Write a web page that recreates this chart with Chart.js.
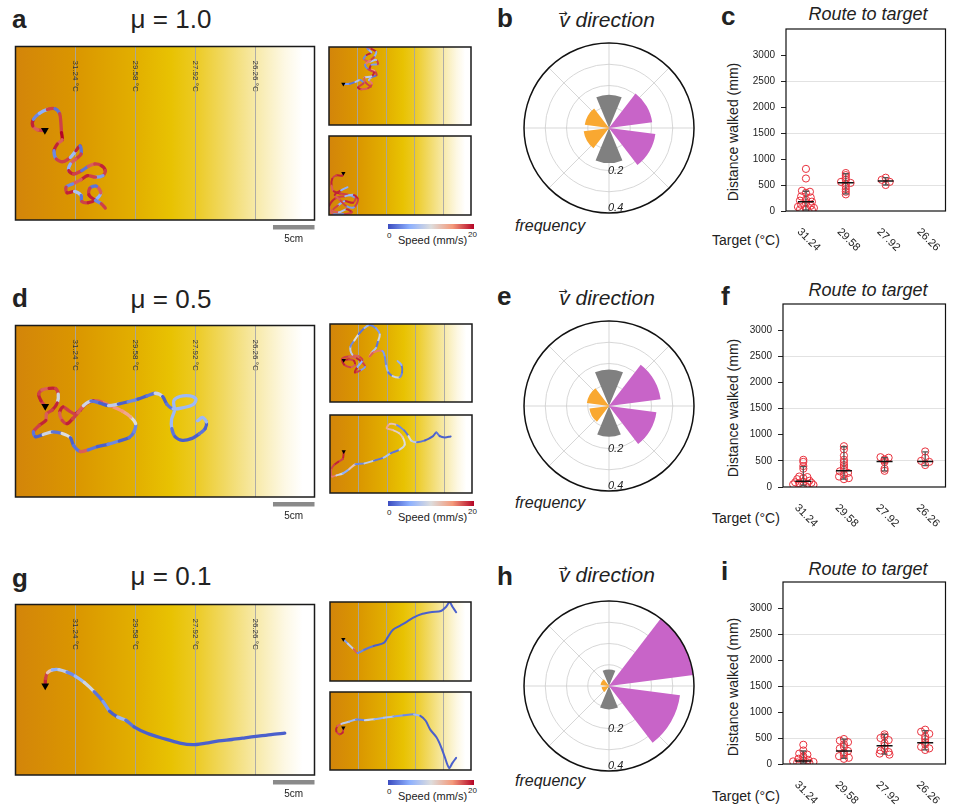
<!DOCTYPE html>
<html><head><meta charset="utf-8">
<script src="https://cdn.jsdelivr.net/npm/chart.js@4/dist/chart.umd.min.js"></script>
<style>
html,body{margin:0;padding:0;background:#fff;}
body{width:955px;height:808px;position:relative;overflow:hidden;font-family:"Liberation Sans",Arial,sans-serif;color:#222;}
canvas{position:absolute;}
.t{position:absolute;white-space:nowrap;}
.let{font-weight:bold;font-size:26px;line-height:26px;}
.mu{font-size:26px;line-height:26px;width:200px;text-align:center;}
.vt{font-style:italic;font-size:21px;line-height:21px;width:160px;text-align:center;}
.vv{position:relative;display:inline-block;}
.arr{position:absolute;left:-1px;top:-1px;font-size:11px;font-style:normal;line-height:11px;font-family:"DejaVu Sans",sans-serif;}
.rt{font-style:italic;font-size:18px;line-height:18px;width:200px;text-align:center;}
.fq{font-style:italic;font-size:16px;line-height:16px;}
.tg{font-size:14px;line-height:14px;}
.dw{font-size:14px;line-height:16px;width:200px;text-align:center;transform:rotate(-90deg);}
.cb{position:absolute;height:5px;width:86px;background:linear-gradient(to right,#3B4CC0,#8DB0FE,#DDDDDD,#F49A7B,#B40426);}
.sm{font-size:8px;line-height:8px;}
.sp{font-size:11px;line-height:11px;}
</style></head><body>

<div class="t let" style="left:12px;top:6px">a</div>
<div class="t mu" style="left:71px;top:6px">μ = 1.0</div>
<div class="t let" style="left:497px;top:5px">b</div>
<div class="t vt" style="left:527px;top:9px"><span class="vv">v<span class="arr">→</span></span> direction</div>
<div class="t let" style="left:721px;top:3px">c</div>
<div class="t rt" style="left:768px;top:5px">Route to target</div>
<div class="t fq" style="left:515px;top:218px">frequency</div>
<div class="t tg" style="left:712px;top:233px">Target (°C)</div>
<div class="t dw" style="left:633px;top:124px">Distance walked (mm)</div>

<div class="t let" style="left:12px;top:285px">d</div>
<div class="t mu" style="left:71px;top:286px">μ = 0.5</div>
<div class="t let" style="left:497px;top:283px">e</div>
<div class="t vt" style="left:527px;top:287px"><span class="vv">v<span class="arr">→</span></span> direction</div>
<div class="t let" style="left:721px;top:283px">f</div>
<div class="t rt" style="left:768px;top:281px">Route to target</div>
<div class="t fq" style="left:515px;top:495px">frequency</div>
<div class="t tg" style="left:712px;top:511px">Target (°C)</div>
<div class="t dw" style="left:633px;top:400px">Distance walked (mm)</div>

<div class="t let" style="left:12px;top:565px">g</div>
<div class="t mu" style="left:71px;top:563px">μ = 0.1</div>
<div class="t let" style="left:497px;top:563px">h</div>
<div class="t vt" style="left:527px;top:564px"><span class="vv">v<span class="arr">→</span></span> direction</div>
<div class="t let" style="left:721px;top:558px">i</div>
<div class="t rt" style="left:768px;top:560px">Route to target</div>
<div class="t fq" style="left:515px;top:773px">frequency</div>
<div class="t tg" style="left:712px;top:789px">Target (°C)</div>
<div class="t dw" style="left:633px;top:679px">Distance walked (mm)</div>

<div class="cb" style="left:388px;top:224px"></div>
<div class="t sm" style="left:387px;top:232px">0</div>
<div class="t sm" style="left:468px;top:231px">20</div>
<div class="t sp" style="left:398px;top:235px">Speed (mm/s)</div>
<div class="cb" style="left:388px;top:501px"></div>
<div class="t sm" style="left:387px;top:509px">0</div>
<div class="t sm" style="left:468px;top:508px">20</div>
<div class="t sp" style="left:398px;top:512px">Speed (mm/s)</div>
<div class="cb" style="left:388px;top:780px"></div>
<div class="t sm" style="left:387px;top:788px">0</div>
<div class="t sm" style="left:468px;top:787px">20</div>
<div class="t sp" style="left:398px;top:791px">Speed (mm/s)</div>

<script>
// ---------- arena / isotherms ----------
const arenaW = 360, arenaH = 206;          // mm
const scaleBarMM = 50;
const isothermTemps = ['31.24','29.58','27.92','26.26'];
const isothermPos = [72,144,216,288];     // mm from warm wall

// ---------- trajectories (mm) and speed (mm/s) ----------
const trajA_x = [35.4,26.7,20.8,21.6,28.7,38.5,47.6,53.1,54.6,55.4,56.2,50.3,46.4,49.1,57.0,66.0,72.7,77.8,79.0,72.7,66.0,64.1,70.0,79.8,87.6,95.5,103.4,108.1,105.3,96.3,86.9,79.0,68.8,60.9,62.1,71.1,79.0,79.8,87.6,96.7,102.6,97.5,89.6,88.4,96.3,103.4,108.1];
const trajA_y = [99.4,99.0,94.3,86.5,79.4,74.7,73.9,79.8,90.4,102.2,110.8,115.9,123.8,133.6,136.8,131.7,123.8,117.9,127.7,133.6,139.5,147.4,151.3,147.4,142.3,139.5,141.5,147.4,153.3,155.2,153.3,158.0,163.1,167.0,173.7,172.1,176.9,183.9,185.5,181.6,173.7,165.8,168.2,176.1,182.8,186.7,191.8];
const trajA_speed = [18,17,19,3,5,18,2,18,18,20,17,19,3,18,18,6,19,2,18,17,5,19,18,2,17,18,19,18,4,18,19,17,3,18,19,7,2,18,19,5,17,2,18,19,3,18,2];

const trajA1_x = [36.4,52.6,67.1,79.3,87.4,73.6,81.7,99.5,109.2,101.1,109.2,120.5,115.7,103.6,107.6,123.8,119.7,101.1,88.2,95.5,107.6,99.5,96.3,107.6,119.7,114.0,104.4,91.4,99.5,114.0,107.6,89.8,93.0,106.0];
const trajA1_y = [97.9,97.1,92.2,87.4,95.5,106.8,111.6,108.4,97.1,87.4,79.3,74.4,63.1,58.2,46.9,45.3,34.0,38.8,30.7,21.0,14.6,6.5,0.8,4.9,12.9,26.7,35.6,46.9,59.0,67.1,77.7,80.9,93.8,105.2];
const trajA1_speed = [4,2,7,3,18,19,17,18,16,6,2,18,15,19,4,18,7,17,3,19,6,3,17,19,5,18,16,3,18,19,8,17,18,16];

const trajA2_x = [36.4,33.2,18.6,8.1,6.5,12.1,28.3,51.0,67.1,60.7,38.8,22.7,8.9,25.1,44.5,57.4,36.4,8.9,0.8,17.0,41.3,63.1,73.6,63.1,42.9,26.7,14.6,30.7,46.9];
const trajA2_y = [97.1,103.6,102.7,111.6,129.4,144.0,149.7,153.7,161.8,174.0,169.9,181.2,194.2,199.0,190.9,199.0,203.9,202.3,182.0,161.8,156.9,153.7,165.8,186.1,182.0,165.8,153.7,141.6,133.5];
const trajA2_speed = [18,19,18,19,17,19,18,4,18,19,5,18,17,7,19,18,3,17,19,18,6,19,18,4,18,17,19,5,14];

const trajD_x = [35.8,30.7,27.9,31.8,40.5,48.3,51.5,50.3,44.4,37.3,36.5,28.7,21.6,24.0,33.4,44.4,56.2,66.0,70.0,77.8,87.6,98.6,111.2,125.0,136.8,142.7,144.6,138.7,128.9,115.9,103.4,93.5,84.5,78.2,71.1,64.1,57.0,53.1,56.2,62.1,68.8,75.1,81.7,90.8,101.4,112.0,123.8,135.6,147.4,158.4,168.2,177.2,182.0,189.8,202.4,214.2,217.3,210.3,197.7,190.6,191.4,187.9,188.2,192.2,200.8,212.6,221.3,228.3,229.9,225.2,219.3];
const trajD_y = [97.1,90.4,82.5,77.4,75.5,75.8,82.5,93.1,101.4,106.1,114.0,119.9,127.7,133.6,130.9,127.7,129.7,134.8,144.2,151.3,149.3,145.4,142.7,138.7,134.8,127.7,117.9,110.0,103.0,97.1,91.6,90.4,94.3,101.4,106.1,102.2,97.9,104.9,114.0,117.9,112.0,104.9,96.3,90.8,93.1,96.3,94.3,91.6,88.4,84.5,81.4,85.3,94.3,100.2,98.6,94.7,88.4,84.5,85.3,90.4,102.2,112.8,123.8,133.6,137.9,135.6,130.1,123.8,115.9,110.4,114.4];
const trajD_speed = [18,19,18,17,19,18,9,19,18,17,19,18,2,1,9,2,10,1,2,17,2,1,3,1,2,3,10,14,15,16,17,19,18,19,18,18,19,17,18,19,18,17,9,2,1,8,1,3,1,2,9,1,2,6,6,6,6,6,6,6,6,6,2,1,1,1,2,1,6,6,6];

const trajD1_x = [34.8,48.5,60.7,63.1,51.0,35.6,30.7,48.5,68.0,80.9,89.0,76.0,63.1,69.6,82.5,72.8,56.6,51.8,61.5,72.8,87.4,100.3,116.5,126.2,121.4,116.5,105.2,100.3,111.6,132.7,139.1,142.4,148.0,158.6,176.4,182.8,181.2,171.5];
const trajD1_y = [95.5,93.0,97.1,108.4,114.1,106.8,92.2,85.8,90.6,100.3,113.3,123.0,127.8,113.3,95.5,85.8,80.9,59.9,43.7,26.7,10.5,2.4,11.3,27.5,46.9,63.1,76.0,85.8,74.4,71.2,87.4,110.0,127.8,137.5,140.8,127.8,108.4,97.9];
const trajD1_speed = [19,18,19,17,18,19,18,17,19,18,4,18,19,5,18,17,8,3,10,2,6,3,4,9,2,7,15,17,16,4,3,6,2,9,3,2,5,9];

const trajD2_x = [34.8,32.4,21.0,10.5,2.4,4.9,16.2,32.4,48.5,64.7,87.4,111.6,135.9,153.7,176.4,189.3,184.5,174.7,158.6,144.0,152.1,169.9,188.5,199.0,207.1,220.8,241.1,261.3,269.4,278.3,291.2,305.8];
const trajD2_y = [96.3,115.7,123.8,131.9,144.8,162.6,159.4,154.5,143.2,130.2,127.8,120.5,112.5,101.1,91.4,78.5,59.1,47.7,39.6,34.8,23.5,26.7,41.3,55.8,68.8,72.0,67.1,55.8,46.1,55.8,59.1,56.6];
const trajD2_speed = [19,18,19,18,17,16,9,5,12,3,8,2,7,2,9,10,12,11,13,14,12,3,2,10,8,2,1,1,2,1,1,1];

const trajG_x = [35.8,36.2,38.5,44.4,52.3,62.1,71.9,82.9,94.7,105.3,113.2,123.0,132.8,142.7,158.4,178.0,197.7,213.4,229.1,244.8,260.6,276.3,292.0,307.7,324.2];
const trajG_y = [98.3,89.6,82.5,79.0,78.6,81.7,86.5,94.3,105.3,117.1,128.9,136.0,139.9,147.8,155.6,161.9,167.4,169.4,167.4,164.7,163.1,161.1,159.0,157.1,155.5];
const trajG_speed = [19,18,12,5,8,3,6,9,2,4,1,6,2,1,1,1,1,1,1,1,1,1,1,1,1];

const trajG1_x = [34.0,45.3,60.7,70.4,87.4,111.6,137.5,147.2,160.2,179.6,195.8,212.8,236.2,260.5,283.2,296.1,305.0,313.1,322.0];
const trajG1_y = [97.1,108.4,123.0,132.7,124.6,114.9,106.8,92.2,72.8,61.5,51.8,40.5,30.7,25.9,23.5,12.9,0.5,12.9,26.7];
const trajG1_speed = [4,8,17,3,2,1,1,1,1,1,1,1,1,1,1,1,1,1,1];

const trajG2_x = [34.0,32.4,24.3,16.2,18.6,29.1,48.5,66.3,89.0,113.3,137.5,161.8,187.7,214.4,230.6,244.3,255.6,271.8,283.2,292.9,304.2,312.3,322.0];
const trajG2_y = [94.7,106.8,111.6,103.6,90.6,84.1,78.5,72.8,74.4,72.0,68.0,64.7,61.5,59.1,63.1,76.0,98.7,119.7,144.0,171.5,200.6,187.7,173.9];
const trajG2_speed = [18,19,18,19,17,8,6,3,9,5,7,4,3,6,1,1,1,1,1,1,1,1,1];

// ---------- heading histograms (frequency per 60° bin) ----------
const dirBins = ['N','NE','SE','S','SW','NW'];
const dirColors = ['#808080','#C864C8','#C864C8','#808080','#F9A831','#F9A831'];
const freqB = [0.156,0.205,0.220,0.165,0.120,0.115];
const freqE = [0.172,0.245,0.225,0.145,0.093,0.105];
const freqH = [0.078,0.400,0.337,0.110,0.035,0.040];
const radialTickLabels = ['0.2','0.4'];
const radialTickValues = [0.2,0.4];

// ---------- route to target ----------
const targetLabels = ['31.24','29.58','27.92','26.26'];
const distC = [[810,625,390,370,350,280,260,220,200,180,150,120,100,80,60,40,30,20],[730,690,650,600,560,540,520,470,420,370,320],[640,600,560,500],[]];
const jitC  = [[0,0,-0.1,0.1,0,-0.12,0.12,0,-0.15,0.15,0,-0.12,0.12,-0.2,0.2,0,-0.15,0.15],[0,0,0,0,-0.12,0.12,0,0,0,0,0],[0,-0.1,0.1,0],[]];
const medC = [180,545,575,null], loC = [20,330,500,null], hiC = [380,720,640,null];

const distF = [[520,480,400,350,200,190,170,150,120,100,90,80,70,60,50,40,30],[780,720,600,520,470,420,380,330,300,270,240,200,170,150],[570,560,530,510,480,350,310],[680,560,500,480,420]];
const jitF  = [[0,0,0,0,-0.1,0.1,0,-0.15,0.15,0,-0.2,0.2,-0.1,0.1,-0.25,0.25,0],[0,0,0,0,0,0,0,0,-0.1,0.1,0,-0.12,0.12,0],[-0.1,0.1,0,0,0,0,0],[0,0,-0.1,0.1,0]];
const medF = [110,310,490,490], loF = [30,150,310,410], hiF = [390,770,560,670];

const distI = [[370,260,200,180,150,120,100,80,60,50,40,30,20],[480,450,420,380,330,300,250,220,180,150,120,100],[570,530,500,460,400,350,300,260,230,200,180],[660,620,580,530,480,420,380,330,300,270]];
const jitI  = [[0,0,-0.1,0.1,0,0,-0.12,0.12,0,-0.25,0.25,-0.15,0.15],[0,-0.1,0.1,0,0,-0.1,0.1,0,0,-0.12,0.12,0],[0,0,-0.1,0.1,0,0,0,-0.1,0.1,-0.12,0.12],[0,-0.1,0.1,0,0,0,0,-0.1,0.1,0]];
const medI = [60,250,350,410], loI = [20,110,190,270], hiI = [250,480,570,640];

// ================= helpers =================
const FONT = '"Liberation Sans", Arial, sans-serif';
function coolwarm(s){
  const t = Math.max(0, Math.min(1, s/20));
  const st = [[59,76,192],[141,176,254],[221,221,221],[244,154,123],[180,4,38]];
  const p = t*4, i = Math.min(3, Math.floor(p)), f = p - i, a = st[i], b = st[i+1];
  return 'rgb(' + [0,1,2].map(k => Math.round(a[k] + (b[k]-a[k])*f)).join(',') + ')';
}
function mkCanvas(l,t,w,h){
  const c = document.createElement('canvas');
  c.width = w; c.height = h;
  c.style.left = l+'px'; c.style.top = t+'px'; c.style.width = w+'px'; c.style.height = h+'px';
  document.body.appendChild(c);
  return c.getContext('2d');
}
const gradStops = [[0,'#D3850A'],[0.2,'#DA9600'],[0.4,'#E2AF00'],[0.52,'#E8C202'],[0.6,'#ECCA22'],[0.7,'#F1D963'],[0.8,'#F7E9A6'],[0.9,'#FDF8E4'],[0.96,'#FFFFFF'],[1,'#FFFFFF']];

const arenaPlugin = {
  id: 'arena',
  beforeDatasetsDraw(chart, args, opts){
    const {ctx, chartArea:{left,top,right,bottom}} = chart;
    const xs = chart.scales.x;
    ctx.save();
    const g = ctx.createLinearGradient(left,0,right,0);
    gradStops.forEach(s => g.addColorStop(s[0], s[1]));
    ctx.fillStyle = g; ctx.fillRect(left, top, right-left, bottom-top);
    isothermPos.forEach((p,i) => {
      const x = Math.round(xs.getPixelForValue(p)) + 0.5;
      ctx.strokeStyle = 'rgba(165,165,165,0.9)'; ctx.lineWidth = 1;
      ctx.beginPath(); ctx.moveTo(x, top); ctx.lineTo(x, bottom); ctx.stroke();
      if (opts.labels){
        ctx.save(); ctx.translate(x, top + 14); ctx.rotate(Math.PI/2);
        ctx.fillStyle = '#333'; ctx.font = '8px ' + FONT; ctx.textAlign = 'left'; ctx.textBaseline = 'middle';
        ctx.fillText(isothermTemps[i] + ' °C', 0, 0); ctx.restore();
      }
    });
    ctx.restore();
  },
  afterDatasetsDraw(chart){
    const {ctx, chartArea:{left,top,right,bottom}} = chart;
    ctx.save(); ctx.strokeStyle = '#1a1a1a'; ctx.lineWidth = 1.5;
    ctx.strokeRect(left, top, right-left, bottom-top); ctx.restore();
  },
  afterDraw(chart, args, opts){
    if (!opts.scaleBar) return;
    const {ctx, chartArea:{bottom}} = chart; const xs = chart.scales.x;
    const r = xs.getPixelForValue(arenaW), l = xs.getPixelForValue(arenaW - scaleBarMM);
    ctx.save(); ctx.fillStyle = '#8a8a8a'; ctx.fillRect(l, bottom + 5, r - l, 4.5);
    ctx.fillStyle = '#222'; ctx.font = '10px ' + FONT; ctx.textAlign = 'center'; ctx.textBaseline = 'middle';
    ctx.fillText('5cm', (l + r)/2, bottom + 19); ctx.restore();
  }
};

function arenaChart(l, t, w, h, xs, ys, sp, main){
  const pad = main ? {left:1, top:1, right:1, bottom:30} : {left:1, top:1, right:1, bottom:1};
  const ctx = mkCanvas(l-1, t-1, w+2, h+pad.top+pad.bottom);
  const pts = xs.map((x,i) => ({x, y: ys[i]}));
  return new Chart(ctx, {
    type: 'line',
    data: {datasets: [
      {data: pts, borderWidth: main ? 3.3 : 2, tension: 0.3, pointRadius: 0, borderCapStyle: 'round', borderJoinStyle: 'round',
       borderColor: coolwarm(sp[0]), segment: {borderColor: c => coolwarm(sp[c.p0DataIndex])}, order: 2},
      {data: [pts[0]], showLine: false, pointStyle: 'triangle', rotation: 180, pointRadius: main ? 4.5 : 2.5,
       backgroundColor: '#000', borderColor: '#000', borderWidth: 0, order: 1}
    ]},
    options: {responsive: false, animation: false, events: [], layout: {padding: pad},
      scales: {x: {type: 'linear', min: 0, max: arenaW, display: false},
               y: {type: 'linear', min: 0, max: arenaH, reverse: true, display: false}},
      plugins: {legend: {display: false}, tooltip: {enabled: false}, arena: {labels: main, scaleBar: main}}},
    plugins: [arenaPlugin]
  });
}

// ---------- polar ----------
const polarPlugin = {
  id: 'polarDeco',
  beforeDatasetsDraw(chart){
    const r = chart.scales.r, ctx = chart.ctx;
    ctx.save(); ctx.strokeStyle = '#cdcdcd'; ctx.lineWidth = 0.8;
    for (let k = 0; k < 8; k++){
      const a = k * Math.PI / 4;
      ctx.beginPath(); ctx.moveTo(r.xCenter, r.yCenter);
      ctx.lineTo(r.xCenter + r.drawingArea*Math.cos(a), r.yCenter + r.drawingArea*Math.sin(a)); ctx.stroke();
    }
    ctx.restore();
  },
  afterDatasetsDraw(chart){
    const r = chart.scales.r, ctx = chart.ctx;
    ctx.save();
    ctx.strokeStyle = '#111'; ctx.lineWidth = 1.5;
    ctx.beginPath(); ctx.arc(r.xCenter, r.yCenter, r.getDistanceFromCenterForValue(r.max), 0, 2*Math.PI); ctx.stroke();
    ctx.fillStyle = '#222'; ctx.font = 'italic 11px ' + FONT; ctx.textAlign = 'left'; ctx.textBaseline = 'middle';
    radialTickLabels.forEach((lab, i) => {
      const v = radialTickValues[i];
      const d = r.getDistanceFromCenterForValue(v) - (v >= r.max ? 5 : 0);
      ctx.fillText(lab, r.xCenter - 1, r.yCenter + d);
    });
    ctx.restore();
  }
};
function polarChart(l, t, freq){
  const ctx = mkCanvas(l, t, 176, 176);
  const data = [], colors = [], angles = [], labels = [];
  freq.forEach((f,i) => { data.push(f, 0); colors.push(dirColors[i], 'rgba(0,0,0,0)'); angles.push(45, 15); labels.push(dirBins[i], ''); });
  return new Chart(ctx, {
    type: 'polarArea',
    data: {labels, datasets: [{data, backgroundColor: colors, borderWidth: 0, angle: angles}]},
    options: {responsive: false, animation: false, events: [], layout: {padding: 3},
      scales: {r: {min: 0, max: 0.4, startAngle: -22.5, ticks: {display: false, stepSize: 0.1},
        angleLines: {display: false}, pointLabels: {display: false},
        grid: {circular: true, lineWidth: 0.8, color: c => (c.tick && c.tick.value >= 0.4) ? 'rgba(0,0,0,0)' : '#cdcdcd'}}},
      plugins: {legend: {display: false}, tooltip: {enabled: false}}},
    plugins: [polarPlugin]
  });
}

// ---------- route ----------
const routePlugin = {
  id: 'routeDeco',
  afterDraw(chart){
    const {ctx, chartArea:{left,top,right,bottom}} = chart; const xs = chart.scales.x;
    ctx.save(); ctx.strokeStyle = '#111'; ctx.lineWidth = 1.2;
    ctx.strokeRect(left, top, right-left, bottom-top);
    ctx.fillStyle = '#222'; ctx.font = '11px ' + FONT; ctx.textAlign = 'left'; ctx.textBaseline = 'middle';
    targetLabels.forEach((lab, i) => {
      const x = xs.getPixelForValue(i+1);
      ctx.save(); ctx.translate(x - 7, bottom + 19); ctx.rotate(Math.PI/4); ctx.fillText(lab, 0, 0); ctx.restore();
    });
    ctx.restore();
  }
};
function routeChart(top, axisLeft, plotRight, plotH, groups, offs, med, lo, hi){
  const W = 255, H = 264, L = 700, extra = 14;
  const ctx = mkCanvas(L, top, W, H);
  const pts = [];
  groups.forEach((g, ci) => g.forEach((v, j) => pts.push({x: ci + 1 + offs[ci][j], y: v})));
  const meds = []; med.forEach((m, i) => { if (m != null) meds.push({x: i+1, y: m}); });
  const eb = []; lo.forEach((v, i) => { if (v != null) eb.push({x: i+1, y: v}, {x: i+1, y: hi[i]}, {x: i+1, y: null}); });
  return new Chart(ctx, {
    type: 'scatter',
    data: {datasets: [
      {data: pts, pointRadius: 3.6, pointStyle: 'circle', borderColor: '#E8303C', backgroundColor: 'rgba(0,0,0,0)', borderWidth: 1, order: 3},
      {data: eb, showLine: true, spanGaps: false, borderColor: '#555', borderWidth: 1.3, pointStyle: 'line', pointRadius: 3, pointBorderColor: '#555', pointBorderWidth: 1.3, order: 2},
      {data: meds, pointStyle: 'line', pointRadius: 8, borderColor: '#111', borderWidth: 1.5, order: 1}
    ]},
    options: {responsive: false, animation: false, events: [],
      layout: {padding: {top: 29, right: 955 - plotRight, left: 0, bottom: extra}},
      scales: {
        x: {type: 'linear', min: 0.5, max: 4.5, ticks: {display: false}, grid: {display: false}, border: {display: false},
            afterFit: s => { s.height = H - extra - 29 - plotH; }},
        y: {type: 'linear', min: 0, max: 3500,
            ticks: {stepSize: 500, padding: 6, color: '#222', font: {size: 10, family: FONT}, callback: v => v >= 3500 ? '' : String(v)},
            grid: {drawTicks: true, tickLength: 5, lineWidth: 1,
                   color: c => (c.tick && [500,1500,2500].includes(c.tick.value)) ? '#e2e2e2' : 'rgba(0,0,0,0)',
                   tickColor: c => (c.tick && c.tick.value >= 3500) ? 'rgba(0,0,0,0)' : '#222'},
            border: {display: false},
            afterFit: s => { s.width = axisLeft - L; }}
      },
      plugins: {legend: {display: false}, tooltip: {enabled: false}}},
    plugins: [routePlugin]
  });
}

// ================= build =================
arenaChart(12, 43, 306, 177, trajA_x, trajA_y, trajA_speed, true);
arenaChart(326, 44, 148, 84, trajA1_x, trajA1_y, trajA1_speed, false);
arenaChart(326, 133, 148, 85, trajA2_x, trajA2_y, trajA2_speed, false);
arenaChart(12, 322, 306, 175, trajD_x, trajD_y, trajD_speed, true);
arenaChart(327, 321, 148, 84, trajD1_x, trajD1_y, trajD1_speed, false);
arenaChart(327, 412, 148, 84, trajD2_x, trajD2_y, trajD2_speed, false);
arenaChart(12, 601, 306, 174, trajG_x, trajG_y, trajG_speed, true);
arenaChart(327, 599, 147, 85, trajG1_x, trajG1_y, trajG1_speed, false);
arenaChart(327, 689, 147, 84, trajG2_x, trajG2_y, trajG2_speed, false);

polarChart(521, 40, freqB);
polarChart(521, 318, freqE);
polarChart(521, 598, freqH);

routeChart(0, 786, 953, 182, distC, jitC, medC, loC, hiC);
routeChart(275, 783, 951, 183, distF, jitF, medF, loF, hiF);
routeChart(553, 783, 951, 182, distI, jitI, medI, loI, hiI);
</script>
</body></html>
